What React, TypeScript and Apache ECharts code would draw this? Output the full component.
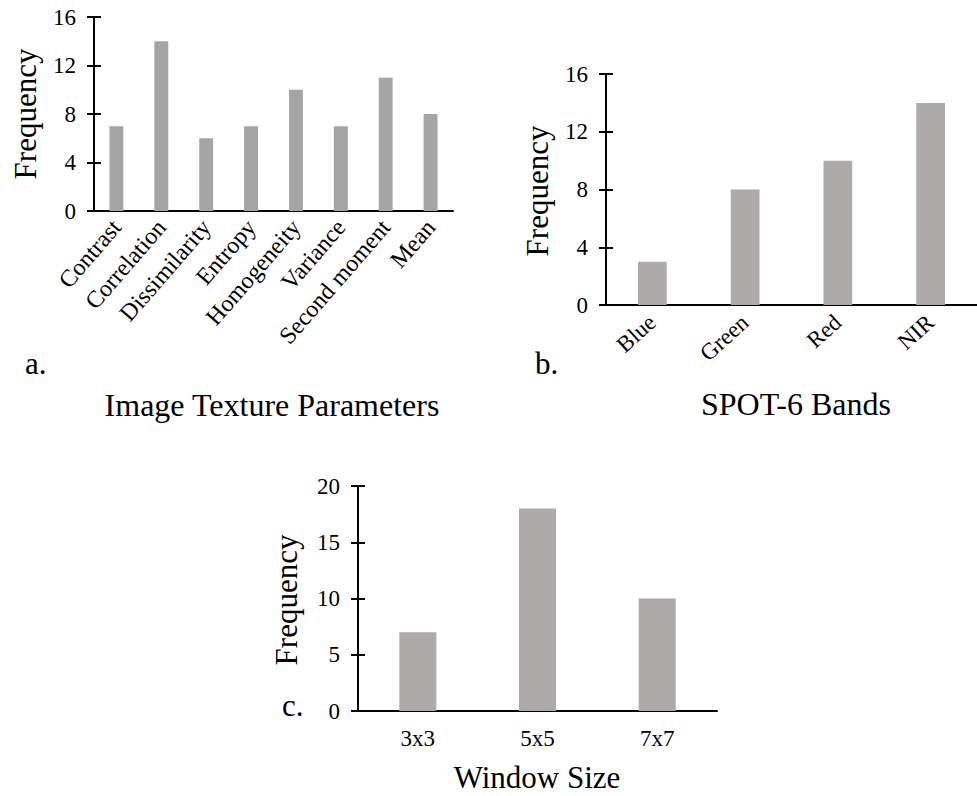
import React, { useEffect, useRef } from "react";
import * as echarts from "echarts";

const textureCategories = ["Contrast", "Correlation", "Dissimilarity", "Entropy", "Homogeneity", "Variance", "Second moment", "Mean"];
const textureValues = [7, 14, 6, 7, 10, 7, 11, 8];
const bandCategories = ["Blue", "Green", "Red", "NIR"];
const bandValues = [3, 8, 10, 14];
const windowCategories = ["3x3", "5x5", "7x7"];
const windowValues = [7, 18, 10];

const textureYMax = 16;
const textureYStep = 4;
const bandYMax = 16;
const bandYStep = 4;
const windowYMax = 20;
const windowYStep = 5;

const FONT = "'Liberation Serif', 'Times New Roman', serif";

export default function App() {
  const ref = useRef<HTMLDivElement>(null);
  useEffect(() => {
    if (!ref.current) return;
    const chart = echarts.init(ref.current, undefined, { renderer: "svg" });

    const grids = [
      { left: 94, top: 17, width: 359, height: 194 },
      { left: 606, top: 74, width: 384, height: 231 },
      { left: 358, top: 486, width: 359, height: 225 },
    ];
    const cats = [textureCategories, bandCategories, windowCategories];
    const vals = [textureValues, bandValues, windowValues];
    const ymax = [textureYMax, bandYMax, windowYMax];
    const ystep = [textureYStep, bandYStep, windowYStep];
    const colors = ["#a5a5a5", "#aeaaaa", "#aeaaaa"];
    const rot = [49, 42, 0];
    const lblMargin = [12, 14, 16];
    const lblSize = [24, 23, 23];

    const axisLine = { show: true, lineStyle: { color: "#000", width: 2 } };

    const xAxis = cats.map((c, i) => ({
      type: "category",
      gridIndex: i,
      data: c,
      axisLine: { ...axisLine, onZero: false },
      axisTick: { show: false },
      axisLabel: { color: "#000", fontFamily: FONT, fontSize: lblSize[i], rotate: rot[i], margin: lblMargin[i], interval: 0 },
    }));

    const yAxisMain = [0, 1, 2].map((i) => ({
      type: "value",
      gridIndex: i,
      position: "left",
      min: 0,
      max: ymax[i],
      interval: ystep[i],
      axisLine,
      axisTick: { show: true, length: 7, lineStyle: { color: "#000", width: 2 } },
      splitLine: { show: false },
      axisLabel: { color: "#000", fontFamily: FONT, fontSize: 23, margin: 18 },
    }));
    const yAxisInner = [0, 1, 2].map((i) => ({
      type: "value",
      gridIndex: i,
      position: "left",
      min: 0,
      max: ymax[i],
      interval: ystep[i],
      axisLine: { show: false },
      axisTick: { show: true, inside: true, length: 7, lineStyle: { color: "#000", width: 2 } },
      splitLine: { show: false },
      axisLabel: { show: false },
    }));

    const series = [0, 1, 2].map((i) => ({
      type: "bar",
      xAxisIndex: i,
      yAxisIndex: i,
      data: vals[i],
      barWidth: "31%",
      itemStyle: { color: colors[i] },
    }));

    const txt = (x: number, y: number, text: string, size: number, align: string, rotation = 0) => ({
      type: "text",
      x,
      y,
      rotation,
      style: { text, fontFamily: FONT, fontSize: size, fill: "#000", align, verticalAlign: "middle" },
    });

    chart.setOption({
      animation: false,
      grid: grids,
      xAxis,
      yAxis: [...yAxisMain, ...yAxisInner],
      series,
      graphic: [
        txt(25, 114, "Frequency", 31, "center", Math.PI / 2),
        txt(537, 191, "Frequency", 31, "center", Math.PI / 2),
        txt(286, 600, "Frequency", 31, "center", Math.PI / 2),
        txt(272, 405, "Image Texture Parameters", 32, "center"),
        txt(796, 404, "SPOT-6 Bands", 32, "center"),
        txt(537, 777, "Window Size", 31, "center"),
        txt(25, 363, "a.", 31, "left"),
        txt(535, 363, "b.", 31, "left"),
        txt(282, 705, "c.", 31, "left"),
      ],
    });
    return () => chart.dispose();
  }, []);
  return <div ref={ref} style={{ position: "fixed", left: 0, top: 0, width: 977, height: 796, background: "#fff" }} />;
}
